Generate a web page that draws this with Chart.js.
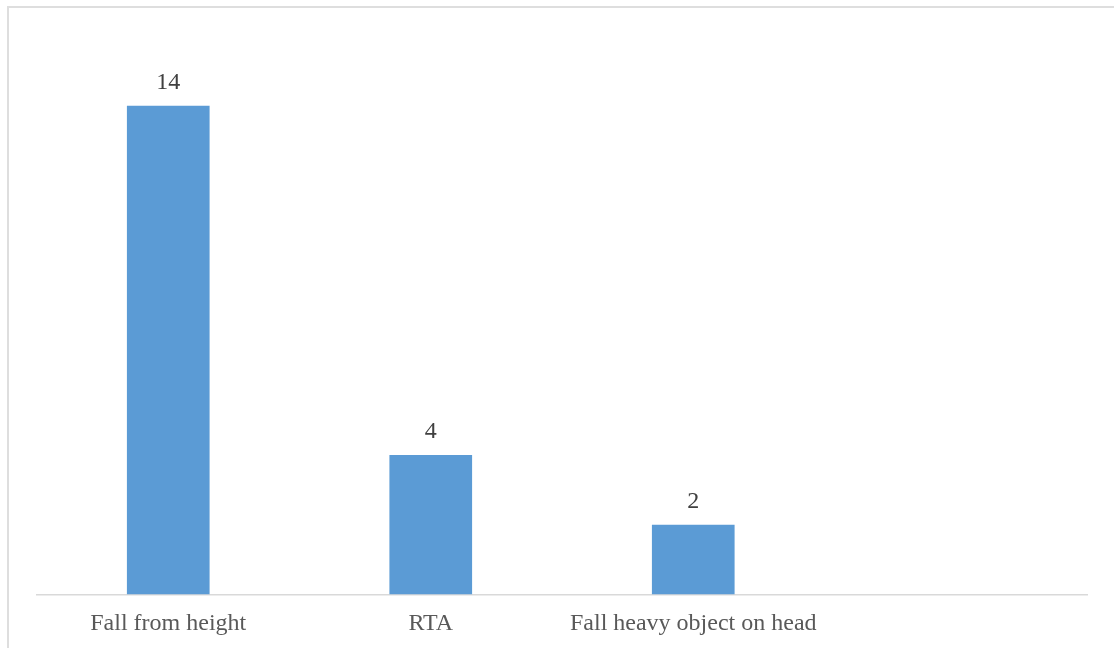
<!DOCTYPE html>
<html>
<head>
<meta charset="utf-8">
<script src="https://cdn.jsdelivr.net/npm/chart.js@4"></script>
<style>
  html, body { margin: 0; padding: 0; background: #fff; }
  #wrap { position: relative; width: 1114px; height: 648px; overflow: hidden; }
  #frame {
    position: absolute; left: 7px; top: 6px; width: 1200px; height: 700px;
    border-left: 2px solid #dedede; border-top: 2px solid #dedede;
  }
  #myChart { position: absolute; left: 0; top: 0; }
</style>
</head>
<body>
<div id="wrap">
  <div id="frame"></div>
  <canvas id="myChart" width="1114" height="648"></canvas>
</div>
<script>
const labels = ["Fall from height", "RTA", "Fall heavy object on head", ""];
const cases = [14, 4, 2, null];
const yMax = 16;

// writes the count above each bar
const valueLabels = {
  id: "valueLabels",
  afterDatasetsDraw(chart) {
    const ctx = chart.ctx;
    const meta = chart.getDatasetMeta(0);
    ctx.save();
    ctx.font = '24px "Liberation Serif", "Times New Roman", serif';
    ctx.fillStyle = "#404040";
    ctx.textAlign = "center";
    ctx.textBaseline = "alphabetic";
    meta.data.forEach((bar, i) => {
      if (cases[i] == null) return;
      ctx.fillText(String(cases[i]), bar.x, bar.y - 17);
    });
    ctx.restore();
  },
};

const ctx = document.getElementById("myChart").getContext("2d");

const data = {
  labels: labels,
  datasets: [
    {
      label: "Cases",
      data: cases,
      backgroundColor: "#5b9bd5",
      borderWidth: 0,
      categoryPercentage: 1,
      barPercentage: 0.315,
    },
  ],
};

const config = {
  type: "bar",
  data: data,
  options: {
    responsive: false,
    animation: false,
    layout: {
      padding: { top: 36, left: 37, right: 27, bottom: 0 },
    },
    plugins: {
      legend: { display: false },
      tooltip: { enabled: false },
    },
    scales: {
      x: {
        afterFit(scale) {
          scale.height = 53.5;
        },
        grid: {
          display: false,
          drawTicks: false,
        },
        border: {
          display: true,
          color: "#d9d9d9",
          width: 1.5,
        },
        ticks: {
          padding: 15,
          color: "#595959",
          maxRotation: 0,
          autoSkip: false,
          font: { family: '"Liberation Serif", "Times New Roman", serif', size: 24 },
        },
      },
      y: {
        display: false,
        min: 0,
        max: yMax,
      },
    },
  },
  plugins: [valueLabels],
};

const myChart = new Chart(ctx, config);
</script>
</body>
</html>
